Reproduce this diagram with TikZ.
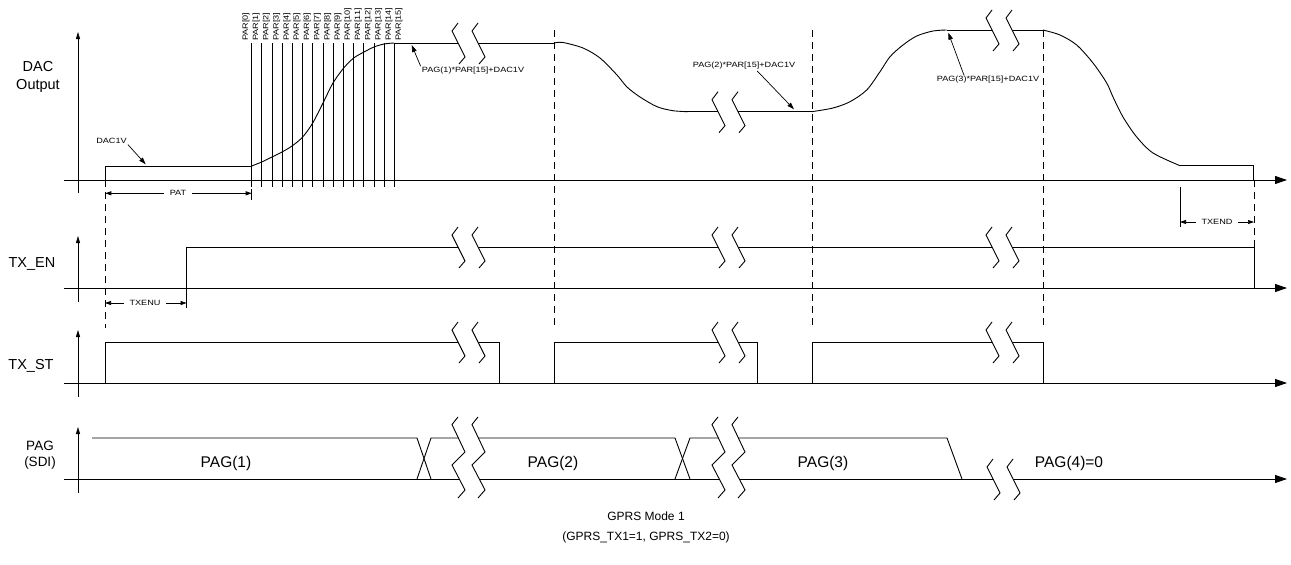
\documentclass[tikz,border=0pt]{standalone}
\usepackage{fontspec}
\setmainfont{Liberation Sans}
\newfontfamily\tagfont[FakeStretch=1.2]{Liberation Sans}
\usetikzlibrary{arrows.meta}
\tikzset{sig/.style={line width=0.9pt},axis/.style={line width=0.9pt,-{Triangle[length=12pt,width=8pt]}},yaxis/.style={line width=0.8pt,-{Triangle[length=7pt,width=4pt]}},guide/.style={line width=0.8pt,dash pattern=on 7pt off 5pt},ann/.style={line width=0.7pt,-{Triangle[length=7pt,width=4.5pt]}},dim/.style={line width=0.7pt,-{Triangle[length=6pt,width=4pt]}},tag/.style={font=\tagfont\fontsize{7.6}{9}\selectfont,inner sep=1pt},dimtag/.style={tag,inner sep=5.5pt},signame/.style={font=\fontsize{14.5}{18}\selectfont,align=center},busval/.style={font=\fontsize{15.5}{18}\selectfont}}
\newcommand{\cutmark}[2]{\fill[white,shift={(#1,#2)}] (-6,-12) -- (7,14) -- (27,14) -- (14,-12) -- cycle;\foreach \d in {0,20} \draw[sig,shift={(#1+\d,#2)}] (0,-20) -- (-6,-12) -- (7,14) -- (1,21);}
\newcommand{\tallcut}[2]{\fill[white,shift={(#1,#2)}] (-6,-34) -- (7,-6.5) -- (-6,6.5) -- (7,31.5) -- (27,31.5) -- (14,6.5) -- (27,-6.5) -- (14,-34) -- cycle;\foreach \d in {0,20} \draw[sig,shift={(#1+\d,#2)}] (0,-41.5) -- (-6,-34) -- (7,-6.5) -- (-6,6.5) -- (7,31.5) -- (0,39.5);}
\begin{document}
\begin{tikzpicture}[x=1pt,y=-1pt]
\useasboundingbox (0,0) rectangle (1291,565);
\foreach \y/\t/\b in {180/32/193,288/236/302,383/330/397,479/427/493}{\draw[axis] (64,\y) -- (1287,\y);\draw[yaxis] (78,\b) -- (78,\t);}
\draw[guide] (105,180) -- (105,328);\foreach \x in {554,812,1043} \draw[guide] (\x,30) -- (\x,328);\draw[guide] (1254,180) -- (1254,247);
\draw[sig] (105,180) -- (105,166) -- (251.7,166);
\draw[sig] plot[smooth] coordinates {(251.7,166) (261.7,162) (272,157) (282,152) (292,146) (302.7,137) (312.7,123) (323,103) (333,83) (343.7,68) (353.7,58) (364,52) (374,47) (384,44) (394,43)};
\draw[sig] (394,43) -- (554,43);
\draw[sig] plot[smooth] coordinates {(554,43) (563,42.5) (583,48) (600,58) (617,75) (627,87) (640,97) (657,106.7) (673,110.7) (688,111.7)};
\draw[sig] (688,111.7) -- (811.7,111.7);
\draw[sig] plot[smooth] coordinates {(811.7,111.7) (833,108) (850,101.7) (866.7,90) (880,71.7) (890,56.7) (903,45) (916.7,36) (933,31) (946.7,30)};
\draw[sig] (946.7,30) -- (1043,30);
\draw[sig] plot[smooth] coordinates {(1043,30) (1060,35) (1076.7,45) (1093,63) (1106.7,83) (1113,97) (1123,117) (1136.7,137) (1153,153) (1180,165.7)};
\draw[sig] (1180,165.7) -- (1253.5,165.7) -- (1253.5,180);
\foreach \i in {0,...,14} \draw[sig] ({251.7+10.19*\i},43) -- ({251.7+10.19*\i},187);
\foreach \j in {0,...,15} \node[tag,rotate=90,anchor=west] (par\j) at ({246+10.2*\j},42) {PAR[\j]};
\draw[sig] (251.7,189) -- (251.7,200);\draw[sig] (1180,187) -- (1180,227);
\draw[sig] (186.6,308) -- (186.6,247) -- (1254,247) -- (1254,288);
\foreach \a/\b in {105/499,554/757,812/1043} \draw[sig] (\a,383) -- (\a,342) -- (\b,342) -- (\b,383);
\draw[sig] (92,438) -- (417,438) -- (431,479);\draw[sig] (417,479) -- (431,438) -- (675,438) -- (690,479);\draw[sig] (675,479) -- (690,438) -- (947,438) -- (962,479);
\foreach \x in {458,718,992}{\cutmark{\x}{247}\cutmark{\x}{342}}
\cutmark{458}{43}\cutmark{718}{111.7}\cutmark{992}{30}
\tallcut{458}{458.5}\tallcut{718}{458.5}\cutmark{993}{479}
\node[signame] (dac) at (38,77) {DAC\\Output};
\node[signame] (txen) at (32,264) {TX\_EN};
\node[signame] (txst) at (31,366) {TX\_ST};
\node[signame,font=\fontsize{13.5}{16}\selectfont] (pag) at (40,455) {PAG\\(SDI)};
\node[busval] (pg1v) at (226,463) {PAG(1)};\node[busval] (pg2v) at (553,463) {PAG(2)};\node[busval] (pg3v) at (823,463) {PAG(3)};\node[busval] (pg4v) at (1069,463) {PAG(4)=0};
\node[font=\fontsize{12}{20}\selectfont,align=center] (mode) at (646,527) {GPRS Mode 1\\(GPRS\_TX1=1, GPRS\_TX2=0)};
\coordinate (dac1vtip) at (145.7,164.3);\coordinate (lvl1tip) at (411.7,45);\coordinate (lvl2tip) at (794,109.3);\coordinate (lvl3tip) at (948.3,32.7);
\node[tag] (dac1v) at (111.5,140.7) {DAC1V};\draw[ann] (dac1v.south east) -- (dac1vtip);
\node[tag] (lvl1) at (473,71) {PAG(1)*PAR[15]+DAC1V};\draw[ann] (lvl1.north west) -- (lvl1tip);
\node[tag] (lvl2) at (744,66) {PAG(2)*PAR[15]+DAC1V};\draw[ann] ([xshift=13pt]lvl2.south) -- (lvl2tip);
\node[tag] (lvl3) at (988,80) {PAG(3)*PAR[15]+DAC1V};\draw[ann] ([xshift=-24pt]lvl3.north) -- (lvl3tip);
\coordinate (patl) at (105.3,193.3);\coordinate (patr) at (251.7,193.3);\coordinate (txenul) at (105,303);\coordinate (txenur) at (186.6,303);\coordinate (txendl) at (1180,222);\coordinate (txendr) at (1254,222);
\node[dimtag] (pat) at (178,193.3) {PAT};\draw[dim] (pat) -- (patl);\draw[dim] (pat) -- (patr);
\node[dimtag] (txenu) at (145,303) {TXENU};\draw[dim] (txenu) -- (txenul);\draw[dim] (txenu) -- (txenur);
\node[dimtag] (txend) at (1217,222) {TXEND};\draw[dim] (txend) -- (txendl);\draw[dim] (txend) -- (txendr);
\end{tikzpicture}
\end{document}
